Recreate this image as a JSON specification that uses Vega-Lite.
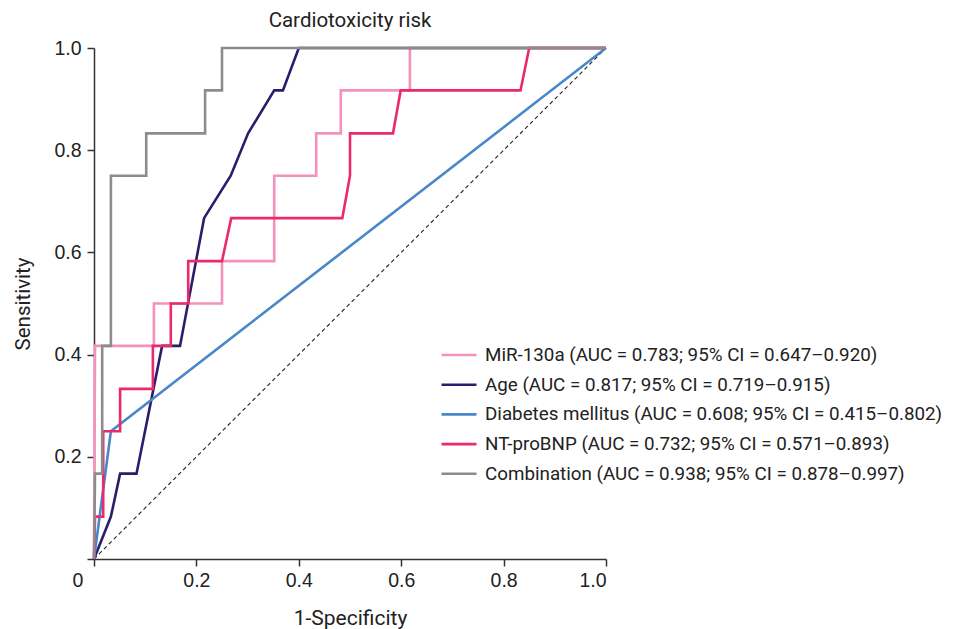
{
  "$schema": "https://vega.github.io/schema/vega-lite/v6.json",
  "width": 512,
  "height": 511,
  "autosize": {"type": "none"},
  "padding": {"left": 94, "top": 48, "right": 359, "bottom": 70},
  "title": {"text": "Cardiotoxicity risk", "font": "Roboto", "fontSize": 20.5, "fontWeight": "normal", "color": "#222", "offset": 7, "anchor": "middle"},
  "config": {"view": {"stroke": null}, "background": "white"},
  "datasets": {
    "roc": [
      {"series": "MiR-130a (AUC = 0.783; 95% CI = 0.647–0.920)", "o": 0, "x": 0, "y": 0},
      {"series": "MiR-130a (AUC = 0.783; 95% CI = 0.647–0.920)", "o": 1, "x": 0.002, "y": 0.417},
      {"series": "MiR-130a (AUC = 0.783; 95% CI = 0.647–0.920)", "o": 2, "x": 0.117, "y": 0.417},
      {"series": "MiR-130a (AUC = 0.783; 95% CI = 0.647–0.920)", "o": 3, "x": 0.117, "y": 0.5},
      {"series": "MiR-130a (AUC = 0.783; 95% CI = 0.647–0.920)", "o": 4, "x": 0.25, "y": 0.5},
      {"series": "MiR-130a (AUC = 0.783; 95% CI = 0.647–0.920)", "o": 5, "x": 0.25, "y": 0.583},
      {"series": "MiR-130a (AUC = 0.783; 95% CI = 0.647–0.920)", "o": 6, "x": 0.352, "y": 0.583},
      {"series": "MiR-130a (AUC = 0.783; 95% CI = 0.647–0.920)", "o": 7, "x": 0.352, "y": 0.75},
      {"series": "MiR-130a (AUC = 0.783; 95% CI = 0.647–0.920)", "o": 8, "x": 0.434, "y": 0.75},
      {"series": "MiR-130a (AUC = 0.783; 95% CI = 0.647–0.920)", "o": 9, "x": 0.434, "y": 0.833},
      {"series": "MiR-130a (AUC = 0.783; 95% CI = 0.647–0.920)", "o": 10, "x": 0.482, "y": 0.833},
      {"series": "MiR-130a (AUC = 0.783; 95% CI = 0.647–0.920)", "o": 11, "x": 0.482, "y": 0.917},
      {"series": "MiR-130a (AUC = 0.783; 95% CI = 0.647–0.920)", "o": 12, "x": 0.617, "y": 0.917},
      {"series": "MiR-130a (AUC = 0.783; 95% CI = 0.647–0.920)", "o": 13, "x": 0.617, "y": 1},
      {"series": "MiR-130a (AUC = 0.783; 95% CI = 0.647–0.920)", "o": 14, "x": 1, "y": 1},

      {"series": "Age (AUC = 0.817; 95% CI = 0.719–0.915)", "o": 0, "x": 0, "y": 0},
      {"series": "Age (AUC = 0.817; 95% CI = 0.719–0.915)", "o": 1, "x": 0.033, "y": 0.083},
      {"series": "Age (AUC = 0.817; 95% CI = 0.719–0.915)", "o": 2, "x": 0.051, "y": 0.167},
      {"series": "Age (AUC = 0.817; 95% CI = 0.719–0.915)", "o": 3, "x": 0.083, "y": 0.167},
      {"series": "Age (AUC = 0.817; 95% CI = 0.719–0.915)", "o": 4, "x": 0.133, "y": 0.417},
      {"series": "Age (AUC = 0.817; 95% CI = 0.719–0.915)", "o": 5, "x": 0.168, "y": 0.417},
      {"series": "Age (AUC = 0.817; 95% CI = 0.719–0.915)", "o": 6, "x": 0.215, "y": 0.667},
      {"series": "Age (AUC = 0.817; 95% CI = 0.719–0.915)", "o": 7, "x": 0.267, "y": 0.75},
      {"series": "Age (AUC = 0.817; 95% CI = 0.719–0.915)", "o": 8, "x": 0.301, "y": 0.833},
      {"series": "Age (AUC = 0.817; 95% CI = 0.719–0.915)", "o": 9, "x": 0.352, "y": 0.917},
      {"series": "Age (AUC = 0.817; 95% CI = 0.719–0.915)", "o": 10, "x": 0.369, "y": 0.917},
      {"series": "Age (AUC = 0.817; 95% CI = 0.719–0.915)", "o": 11, "x": 0.4, "y": 1},
      {"series": "Age (AUC = 0.817; 95% CI = 0.719–0.915)", "o": 12, "x": 1, "y": 1},

      {"series": "Diabetes mellitus (AUC = 0.608; 95% CI = 0.415–0.802)", "o": 0, "x": 0, "y": 0},
      {"series": "Diabetes mellitus (AUC = 0.608; 95% CI = 0.415–0.802)", "o": 1, "x": 0.033, "y": 0.25},
      {"series": "Diabetes mellitus (AUC = 0.608; 95% CI = 0.415–0.802)", "o": 2, "x": 1, "y": 1},

      {"series": "NT-proBNP (AUC = 0.732; 95% CI = 0.571–0.893)", "o": 0, "x": 0, "y": 0},
      {"series": "NT-proBNP (AUC = 0.732; 95% CI = 0.571–0.893)", "o": 1, "x": 0.002, "y": 0.083},
      {"series": "NT-proBNP (AUC = 0.732; 95% CI = 0.571–0.893)", "o": 2, "x": 0.018, "y": 0.083},
      {"series": "NT-proBNP (AUC = 0.732; 95% CI = 0.571–0.893)", "o": 3, "x": 0.018, "y": 0.25},
      {"series": "NT-proBNP (AUC = 0.732; 95% CI = 0.571–0.893)", "o": 4, "x": 0.051, "y": 0.25},
      {"series": "NT-proBNP (AUC = 0.732; 95% CI = 0.571–0.893)", "o": 5, "x": 0.051, "y": 0.333},
      {"series": "NT-proBNP (AUC = 0.732; 95% CI = 0.571–0.893)", "o": 6, "x": 0.115, "y": 0.333},
      {"series": "NT-proBNP (AUC = 0.732; 95% CI = 0.571–0.893)", "o": 7, "x": 0.115, "y": 0.417},
      {"series": "NT-proBNP (AUC = 0.732; 95% CI = 0.571–0.893)", "o": 8, "x": 0.15, "y": 0.417},
      {"series": "NT-proBNP (AUC = 0.732; 95% CI = 0.571–0.893)", "o": 9, "x": 0.15, "y": 0.5},
      {"series": "NT-proBNP (AUC = 0.732; 95% CI = 0.571–0.893)", "o": 10, "x": 0.184, "y": 0.5},
      {"series": "NT-proBNP (AUC = 0.732; 95% CI = 0.571–0.893)", "o": 11, "x": 0.184, "y": 0.583},
      {"series": "NT-proBNP (AUC = 0.732; 95% CI = 0.571–0.893)", "o": 12, "x": 0.25, "y": 0.583},
      {"series": "NT-proBNP (AUC = 0.732; 95% CI = 0.571–0.893)", "o": 13, "x": 0.268, "y": 0.667},
      {"series": "NT-proBNP (AUC = 0.732; 95% CI = 0.571–0.893)", "o": 14, "x": 0.485, "y": 0.667},
      {"series": "NT-proBNP (AUC = 0.732; 95% CI = 0.571–0.893)", "o": 15, "x": 0.5, "y": 0.75},
      {"series": "NT-proBNP (AUC = 0.732; 95% CI = 0.571–0.893)", "o": 16, "x": 0.5, "y": 0.833},
      {"series": "NT-proBNP (AUC = 0.732; 95% CI = 0.571–0.893)", "o": 17, "x": 0.584, "y": 0.833},
      {"series": "NT-proBNP (AUC = 0.732; 95% CI = 0.571–0.893)", "o": 18, "x": 0.599, "y": 0.917},
      {"series": "NT-proBNP (AUC = 0.732; 95% CI = 0.571–0.893)", "o": 19, "x": 0.833, "y": 0.917},
      {"series": "NT-proBNP (AUC = 0.732; 95% CI = 0.571–0.893)", "o": 20, "x": 0.85, "y": 1},
      {"series": "NT-proBNP (AUC = 0.732; 95% CI = 0.571–0.893)", "o": 21, "x": 1, "y": 1},

      {"series": "Combination (AUC = 0.938; 95% CI = 0.878–0.997)", "o": 0, "x": 0, "y": 0},
      {"series": "Combination (AUC = 0.938; 95% CI = 0.878–0.997)", "o": 1, "x": 0.002, "y": 0.167},
      {"series": "Combination (AUC = 0.938; 95% CI = 0.878–0.997)", "o": 2, "x": 0.016, "y": 0.167},
      {"series": "Combination (AUC = 0.938; 95% CI = 0.878–0.997)", "o": 3, "x": 0.016, "y": 0.417},
      {"series": "Combination (AUC = 0.938; 95% CI = 0.878–0.997)", "o": 4, "x": 0.033, "y": 0.417},
      {"series": "Combination (AUC = 0.938; 95% CI = 0.878–0.997)", "o": 5, "x": 0.033, "y": 0.75},
      {"series": "Combination (AUC = 0.938; 95% CI = 0.878–0.997)", "o": 6, "x": 0.102, "y": 0.75},
      {"series": "Combination (AUC = 0.938; 95% CI = 0.878–0.997)", "o": 7, "x": 0.102, "y": 0.833},
      {"series": "Combination (AUC = 0.938; 95% CI = 0.878–0.997)", "o": 8, "x": 0.217, "y": 0.833},
      {"series": "Combination (AUC = 0.938; 95% CI = 0.878–0.997)", "o": 9, "x": 0.217, "y": 0.917},
      {"series": "Combination (AUC = 0.938; 95% CI = 0.878–0.997)", "o": 10, "x": 0.25, "y": 0.917},
      {"series": "Combination (AUC = 0.938; 95% CI = 0.878–0.997)", "o": 11, "x": 0.25, "y": 1},
      {"series": "Combination (AUC = 0.938; 95% CI = 0.878–0.997)", "o": 12, "x": 1, "y": 1}
    ],
    "ref": [
      {"x": 0, "y": 0},
      {"x": 1, "y": 1}
    ]
  },
  "layer": [
    {
      "data": {"name": "ref"},
      "mark": {"type": "line", "color": "#222", "strokeWidth": 1.1, "strokeDash": [4, 3]},
      "encoding": {
        "x": {"field": "x", "type": "quantitative", "scale": {"domain": [0, 1], "nice": false}},
        "y": {"field": "y", "type": "quantitative", "scale": {"domain": [0, 1], "nice": false}}
      }
    },
    {
      "data": {"name": "roc"},
      "mark": {"type": "line", "strokeWidth": 2.6, "strokeJoin": "miter", "strokeCap": "butt"},
      "encoding": {
        "x": {
          "field": "x", "type": "quantitative",
          "scale": {"domain": [0, 1], "nice": false},
          "axis": {
            "title": "1-Specificity", "values": [0, 0.2, 0.4, 0.6, 0.8, 1.0],
            "labelExpr": "datum.value === 0 ? '0' : format(datum.value, '.1f')",
            "labelOffset": {"condition": {"test": "datum.value === 0", "value": -22}, "value": 0},
            "grid": false, "domainColor": "#333", "domainWidth": 1.5, "tickColor": "#333", "tickWidth": 1.5, "tickSize": 7,
            "labelFont": "Liberation Sans", "labelFontSize": 19.5, "labelColor": "#222", "labelPadding": 5,
            "titleFont": "Roboto", "titleFontSize": 21, "titleFontWeight": "normal", "titleColor": "#222", "titlePadding": 18
          }
        },
        "y": {
          "field": "y", "type": "quantitative",
          "scale": {"domain": [0, 1], "nice": false},
          "axis": {
            "title": "Sensitivity", "values": [0, 0.2, 0.4, 0.6, 0.8, 1.0],
            "labelExpr": "datum.value === 0 ? '' : format(datum.value, '.1f')",
            "grid": false, "domainColor": "#333", "domainWidth": 1.5, "tickColor": "#333", "tickWidth": 1.5, "tickSize": 7,
            "labelFont": "Liberation Sans", "labelFontSize": 19.5, "labelColor": "#222", "labelPadding": 6,
            "titleFont": "Roboto", "titleFontSize": 20.5, "titleFontWeight": "normal", "titleColor": "#222", "titlePadding": 20
          }
        },
        "color": {
          "field": "series", "type": "nominal",
          "scale": {
            "domain": [
              "MiR-130a (AUC = 0.783; 95% CI = 0.647–0.920)",
              "Age (AUC = 0.817; 95% CI = 0.719–0.915)",
              "Diabetes mellitus (AUC = 0.608; 95% CI = 0.415–0.802)",
              "NT-proBNP (AUC = 0.732; 95% CI = 0.571–0.893)",
              "Combination (AUC = 0.938; 95% CI = 0.878–0.997)"
            ],
            "range": ["#F491BC", "#2C1D6C", "#4A87C9", "#EB2A6C", "#8C8C8C"]
          },
          "legend": {
            "title": null, "orient": "none", "legendX": 346, "legendY": 288,
            "symbolType": "stroke", "symbolSize": 1225, "symbolStrokeWidth": 2.6,
            "labelFont": "Roboto", "labelFontSize": 18.8, "labelColor": "#222", "labelOffset": 7,
            "rowPadding": 0.7, "labelLimit": 600
          }
        },
        "order": {"field": "o", "type": "quantitative"}
      }
    }
  ]
}
